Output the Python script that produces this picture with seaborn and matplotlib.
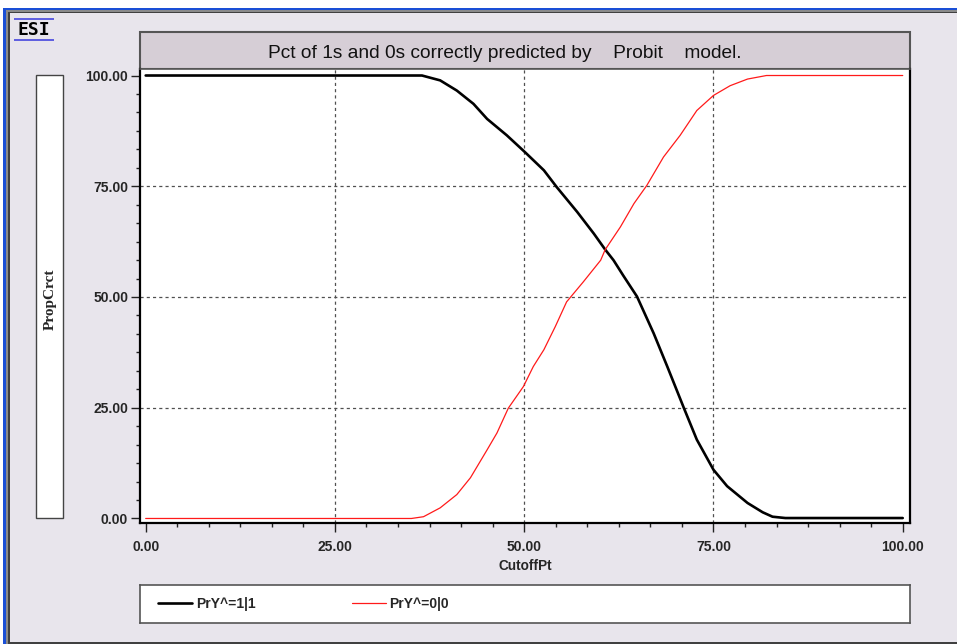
import matplotlib
matplotlib.use("Agg")
import matplotlib.pyplot as plt
import seaborn as sns
import pandas as pd
from matplotlib.patches import Rectangle
from matplotlib.lines import Line2D
from matplotlib.ticker import MultipleLocator, FormatStrFormatter

# data
cutoff_1 = [0, 36.5, 38.9, 41.1, 43.3, 45.1, 47.7, 50.1, 52.6, 54.3, 57.0, 59.2, 60.7,
            61.8, 63.1, 64.9, 67.1, 68.9, 71.1, 72.8, 75.0, 76.8, 79.5, 81.5, 82.8, 84.5, 100]
pct_1 = [100, 100, 98.9, 96.6, 93.6, 90.2, 86.5, 82.7, 78.6, 74.8, 69.2, 64.3, 60.7,
         58.3, 54.8, 50.1, 41.8, 34.3, 24.9, 17.8, 11.0, 7.3, 3.5, 1.4, 0.4, 0.1, 0.1]
cutoff_0 = [0, 35.1, 36.7, 38.9, 41.1, 42.9, 45.1, 46.4, 47.9, 49.9, 51.2, 52.6, 54.1,
            55.6, 57.8, 60.1, 60.7, 62.7, 64.5, 66.2, 68.4, 70.6, 72.8, 75.0, 77.2, 79.5, 82.0, 100]
pct_0 = [0, 0, 0.4, 2.4, 5.4, 9.2, 15.5, 19.3, 24.9, 29.8, 34.3, 38.1, 43.3,
         48.9, 53.4, 58.3, 60.7, 65.8, 71.1, 75.2, 81.6, 86.5, 92.1, 95.5, 97.7, 99.2, 100, 100]
series_labels = ["PrY^=1|1", "PrY^=0|0"]
x_ticks = [0, 25, 50, 75, 100]
y_ticks = [0, 25, 50, 75, 100]

W, H = 957, 644
BG = "#E8E5EC"

sns.set_theme(style="white")
plt.rcParams["font.family"] = ["Liberation Sans", "DejaVu Sans"]


def box(x0, y0, x1, y1):
    # pixel box (top-left origin) -> figure fraction rect
    return [x0 / W, 1 - y1 / H, (x1 - x0) / W, (y1 - y0) / H]


fig = plt.figure(figsize=(W / 100, H / 100), dpi=100, facecolor="white")


def frect(x0, y0, x1, y1, **kw):
    l, b, w, h = box(x0, y0, x1, y1)
    fig.patches.append(Rectangle((l, b), w, h, transform=fig.transFigure, zorder=-5, **kw))


# window frame
frect(3, 8, 957, 644, facecolor="#1A4FD6", edgecolor="none")
frect(6, 10, 957, 644, facecolor="#8A8A8A", edgecolor="none")
frect(8, 12, 957, 644, facecolor="#404040", edgecolor="none")
frect(10, 13, 957, 642, facecolor=BG, edgecolor="none")

# ESI logo
frect(14, 18, 54, 20, facecolor="#6060E0", edgecolor="none")
frect(14, 39, 54, 41, facecolor="#6060E0", edgecolor="none")
fig.text(34 / W, 1 - 30 / H, "ESI", ha="center", va="center", fontsize=13,
         family="DejaVu Sans Mono", fontweight="bold", color="black")

# title box
frect(140, 32, 910, 69, facecolor="#D6CED6", edgecolor="#555555", linewidth=1.5)
fig.text(505 / W, 1 - 54 / H, "Pct of 1s and 0s correctly predicted by    Probit    model.",
         ha="center", va="center", fontsize=13.8, color="#111111")

# y label box
frect(36, 75, 63, 518, facecolor="white", edgecolor="#444444", linewidth=1)
fig.text(50 / W, 1 - 299 / H, "PropCrct", rotation=90, ha="center", va="center",
         fontsize=11, fontweight="bold", family=["Liberation Serif", "DejaVu Serif"])

# main axes
ax = fig.add_axes(box(140, 69, 910, 523))
ax.set_facecolor("white")
df1 = pd.DataFrame({"x": cutoff_1, "y": pct_1})
df0 = pd.DataFrame({"x": cutoff_0, "y": pct_0})
sns.lineplot(data=df1, x="x", y="y", ax=ax, color="black", linewidth=1.9,
             estimator=None, sort=False, label=series_labels[0])
sns.lineplot(data=df0, x="x", y="y", ax=ax, color="#FF1A1A", linewidth=0.9,
             estimator=None, sort=False, label=series_labels[1])
ax.get_legend().remove()

ax.set_xlim(-0.75, 100.96)
ax.set_ylim(-1.02, 101.47)
ax.set_xticks(x_ticks)
ax.set_yticks(y_ticks)
ax.xaxis.set_minor_locator(MultipleLocator(25 / 6))
ax.yaxis.set_minor_locator(MultipleLocator(25 / 6))
ax.xaxis.set_major_formatter(FormatStrFormatter("%.2f"))
ax.yaxis.set_major_formatter(FormatStrFormatter("%.2f"))
ax.tick_params(which="major", length=6.5, width=1, color="#222222", direction="out",
               labelsize=10, bottom=True, left=True)
ax.tick_params(which="minor", length=3, width=1, color="#222222", direction="out",
               bottom=True, left=True)
ax.tick_params(axis="x", which="major", pad=6)
ax.tick_params(axis="y", which="major", pad=2)
for lab in ax.get_xticklabels() + ax.get_yticklabels():
    lab.set_fontweight("bold")
ax.set_xlabel("CutoffPt", fontsize=9.8, fontweight="bold", labelpad=3)
ax.set_ylabel("")

for g in [25, 50, 75]:
    ax.axvline(g, color="#505050", linewidth=0.9, linestyle=(0, (2.5, 2.5)), zorder=0)
    ax.axhline(g, color="#505050", linewidth=0.9, linestyle=(0, (2.5, 2.5)), zorder=0)

for side in ["left", "bottom", "right"]:
    ax.spines[side].set_color("black")
    ax.spines[side].set_linewidth(1.6)
ax.spines["top"].set_color("#555555")
ax.spines["top"].set_linewidth(1.2)

# legend box
lax = fig.add_axes(box(140, 585, 910, 623))
lax.set_facecolor("white")
lax.set_xticks([])
lax.set_yticks([])
for s in lax.spines.values():
    s.set_color("#555555")
    s.set_linewidth(1.2)
handles = [Line2D([], [], color=ln.get_color(), linewidth=ln.get_linewidth())
           for ln in ax.get_lines()[:2]]
leg = lax.legend(handles, series_labels, loc="center left", ncol=2, frameon=False,
                 prop={"size": 10, "weight": "bold"}, handlelength=2.45,
                 handletextpad=0.29, columnspacing=6.9, borderaxespad=0.9)

fig.savefig("out.png", dpi=100, facecolor="white")
